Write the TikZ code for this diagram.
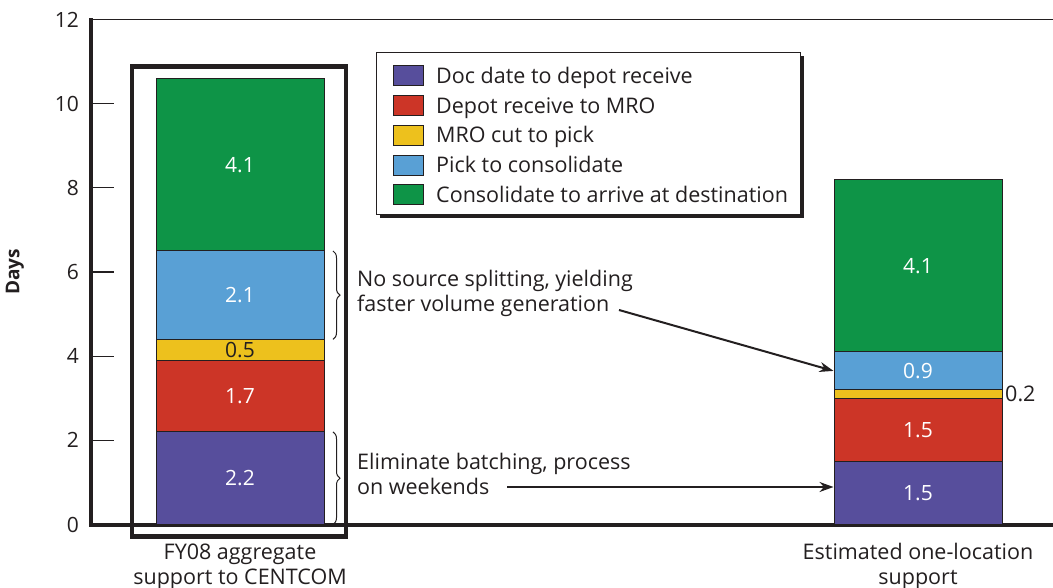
\documentclass[tikz,border=0pt]{standalone}
\usepackage{fontspec}
\setmainfont{Open Sans}
\usetikzlibrary{decorations.pathreplacing,arrows.meta,calc}
\definecolor{cpurple}{HTML}{574E9C}
\definecolor{cred}{HTML}{CC3527}
\definecolor{cyellow}{HTML}{EDC11D}
\definecolor{cblue}{HTML}{59A0D5}
\definecolor{cgreen}{HTML}{0E9447}
\definecolor{ink}{HTML}{231F20}
\tikzset{
  seg/.style={draw=ink, line width=1pt, rectangle, inner sep=0pt, minimum width=168pt, text=white, font=\fontsize{21}{24}\selectfont},
  lbl/.style={text=ink, font=\fontsize{21.5}{25}\selectfont, inner sep=0pt},
  ticklbl/.style={text=ink, font=\fontsize{21}{24}\selectfont, anchor=east, inner sep=0pt},
  swatch/.style={draw=ink, line width=1pt, minimum width=30pt, minimum height=20pt, inner sep=0pt},
  brc/.style={decorate, decoration={brace, amplitude=7pt}, draw=ink, line width=1pt},
  arr/.style={draw=ink, line width=2pt, -{Stealth[length=14pt,width=10pt]}}
}
\newcommand{\dy}[1]{524.5-42.08*#1}
\begin{document}
\begin{tikzpicture}[x=1pt,y=-1pt]
\useasboundingbox[fill=white] (0,0) rectangle (1053,588);
% frame and axes
\draw[ink, line width=1.5pt] (91,19.5) -- (1053,19.5);
\draw[ink, line width=3.5pt] (91,18.5) -- (91,525) -- (1053,525);
\foreach \v in {2,4,6,8,10} \draw[ink, line width=1.2pt] (92.5,{\dy{\v}}) -- (114,{\dy{\v}});
\foreach \v in {0,2,4,6,8,10,12} \node[ticklbl] (t\v) at (79,{\dy{\v}}) {\v};
\node[lbl, rotate=90, font=\fontsize{19}{22}\selectfont\bfseries] (ylab) at (15,272) {Days};
% bar 1
\node[seg, fill=cpurple, minimum height={42.08*2.2}] (a1) at (240,{\dy{1.1}}) {2.2};
\node[seg, fill=cred, minimum height={42.08*1.7}] (a2) at (240,{\dy{3.05}}) {1.7};
\node[seg, fill=cyellow, minimum height={42.08*0.5}, text=ink] (a3) at (240,{\dy{4.15}}) {0.5};
\node[seg, fill=cblue, minimum height={42.08*2.1}] (a4) at (240,{\dy{5.45}}) {2.1};
\node[seg, fill=cgreen, minimum height={42.08*4.1}] (a5) at (240,{\dy{8.55}}) {4.1};
% highlight box
\draw[ink, line width=4.5pt] (132,66.5) rectangle (346,536.5);
% bar 2
\node[seg, fill=cpurple, minimum height={42.08*1.5}] (b1) at (918,{\dy{0.75}}) {1.5};
\node[seg, fill=cred, minimum height={42.08*1.5}] (b2) at (918,{\dy{2.25}}) {1.5};
\node[seg, fill=cyellow, minimum height={42.08*0.2}] (b3) at (918,{\dy{3.1}}) {};
\node[seg, fill=cblue, minimum height={42.08*0.9}] (b4) at (918,{\dy{3.65}}) {0.9};
\node[seg, fill=cgreen, minimum height={42.08*4.1}] (b5) at (918,{\dy{6.15}}) {4.1};
\node[lbl, anchor=base west] (b3lbl) at (1005,401.5) {0.2};
% axis category labels
\node[lbl, anchor=base] (cat1a) at (240,559) {FY08 aggregate};
\node[lbl, anchor=base] (cat1b) at (240,584) {support to CENTCOM};
\node[lbl, anchor=base] (cat2a) at (918,559) {Estimated one-location};
\node[lbl, anchor=base] (cat2b) at (918,584) {support};
% braces
\draw[brc] (333,{\dy{6.5}}) -- (333,{\dy{4.4}});
\draw[brc] (333,{\dy{2.2}}) -- (333,{\dy{0}});
% annotations
\node[lbl, anchor=base west] (n1a) at (357,287) {No source splitting, yielding};
\node[lbl, anchor=base west] (n1b) at (357,312) {faster volume generation};
\node[lbl, anchor=base west] (n2a) at (357,469) {Eliminate batching, process};
\node[lbl, anchor=base west] (n2b) at (357,494) {on weekends};
\coordinate (s1) at (619,310);
\coordinate (s2) at (507,487);
\draw[arr] (s1) -- (b4.west);
\draw[arr] (s2) -- (s2 -| b1.west);
% legend
\fill[ink] (380,56) rectangle (804,218);
\node[draw=ink, line width=1pt, fill=white, minimum width=424pt, minimum height=162pt, anchor=north west, inner sep=0pt] (leg) at (376,52) {};
\foreach \i/\c/\t in {0/cpurple/Doc date to depot receive,1/cred/Depot receive to MRO,2/cyellow/MRO cut to pick,3/cblue/Pick to consolidate,4/cgreen/Consolidate to arrive at destination}{
  \node[swatch, fill=\c] (sw\i) at (408,{76+29.7*\i}) {};
  \node[lbl, anchor=base west] (lt\i) at (436,{83.5+29.7*\i}) {\t};
}
\end{tikzpicture}
\end{document}
